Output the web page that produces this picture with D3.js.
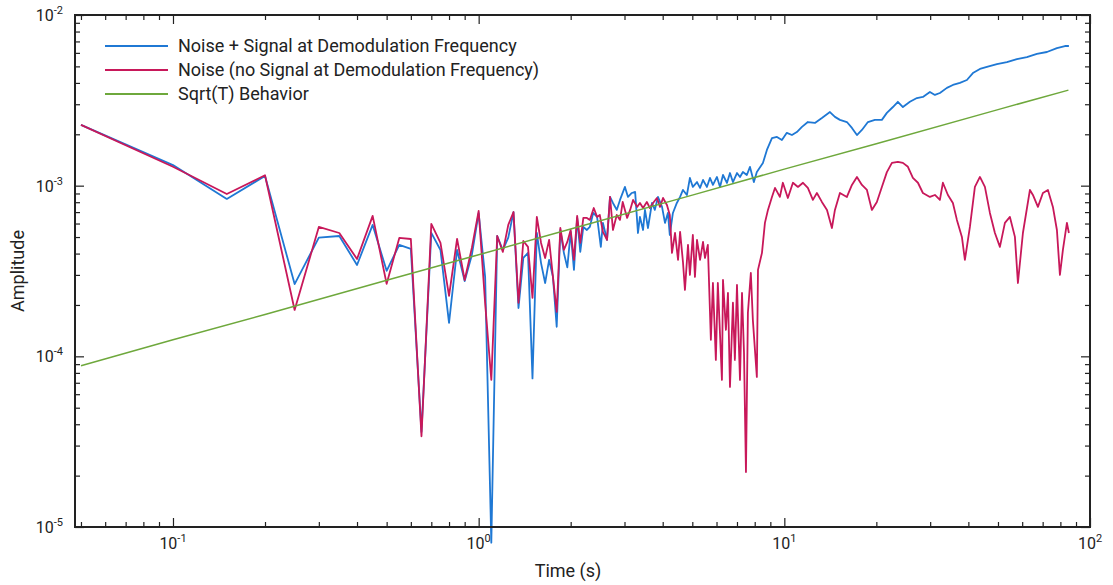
<!DOCTYPE html>
<html>
<head>
<meta charset="utf-8">
<script src="https://cdn.jsdelivr.net/npm/d3@7"></script>
<style>
  body { margin: 0; background: #fff; }
  svg { font-family: Roboto, 'Noto Sans', sans-serif; }
</style>
</head>
<body>
<div id="chart"></div>
<script>
// Amplitude vs averaging time, log-log.
// Values.

const seriesNames = [
  'Noise + Signal at Demodulation Frequency',
  'Noise (no Signal at Demodulation Frequency)',
  'Sqrt(T) Behavior'
]
const seriesColors = ['#1f78d4', '#c8185a', '#6ea83c']

// first 2.2 s, shared by both measured curves (0.05 s steps)
const earlyTime = [
  0.05, 0.1, 0.15, 0.2, 0.25, 0.3, 0.35, 0.4, 0.45, 0.5, 0.55, 0.6, 0.65, 0.7, 0.75,
  0.8, 0.85, 0.9, 0.95, 1.0, 1.05, 1.1, 1.15, 1.2, 1.25, 1.3, 1.35, 1.4, 1.45, 1.5,
  1.55, 1.6, 1.65, 1.7, 1.75, 1.8, 1.85, 1.9, 1.95, 2.0, 2.05, 2.1, 2.15, 2.2
]
const earlySignal = [
  2.27e-3, 1.32e-3, 8.36e-4, 1.14e-3, 2.65e-4, 4.96e-4, 5.07e-4, 3.43e-4, 5.89e-4, 3.17e-4,
  4.50e-4, 4.26e-4, 3.6e-5, 5.29e-4, 4.20e-4, 1.57e-4, 4.20e-4, 2.76e-4, 3.93e-4, 6.9e-4,
  2.92e-4, 8.1e-6, 5.07e-4, 4.20e-4, 4.96e-4, 7.0e-4, 1.92e-4, 3.77e-4, 4.04e-4, 7.43e-5,
  5.29e-4, 3.52e-4, 2.69e-4, 3.67e-4, 2.92e-4, 1.49e-4, 5.50e-4, 4.04e-4, 3.32e-4, 5.36e-4,
  3.21e-4, 6.47e-4, 4.09e-4, 5.73e-4
]
const earlyNoise = [
  2.27e-3, 1.29e-3, 8.94e-4, 1.15e-3, 1.87e-4, 5.73e-4, 5.28e-4, 3.72e-4, 6.65e-4, 2.66e-4,
  4.94e-4, 4.87e-4, 3.4e-5, 5.97e-4, 4.62e-4, 2.26e-4, 4.87e-4, 2.8e-4, 4.32e-4, 7.11e-4,
  2.05e-4, 7.27e-5, 5.07e-4, 4.09e-4, 5.89e-4, 7.01e-4, 2.06e-4, 4.74e-4, 4.38e-4, 2.20e-4,
  6.56e-4, 4.62e-4, 3.77e-4, 4.81e-4, 2.92e-4, 1.82e-4, 5.65e-4, 4.20e-4, 4.68e-4, 5.50e-4,
  3.67e-4, 6.65e-4, 4.62e-4, 6.47e-4
]

// after 2.2 s
const lateSignalTime = [
  2.26, 2.31, 2.37, 2.44, 2.51, 2.55, 2.63, 2.69, 2.75, 2.83, 2.90, 3.01, 3.08, 3.17, 3.25,
  3.32, 3.37, 3.45, 3.50, 3.58, 3.69, 3.77, 3.86, 3.98, 4.07, 4.16, 4.22, 4.32, 4.45, 4.56,
  4.66, 4.80, 4.91, 5.02, 5.18, 5.30, 5.42, 5.58, 5.71, 5.84, 6.02, 6.16, 6.30, 6.49, 6.64,
  6.79, 7.00, 7.16, 7.32, 7.54, 7.72, 7.95, 8.13, 8.51, 8.77, 9.11, 9.46, 9.82, 10.19, 10.59,
  10.99, 11.42, 11.94, 12.59, 13.27, 14.10, 14.64, 15.20, 16.02, 16.64, 17.28, 17.94, 18.77, 19.78, 20.85,
  21.65, 22.66, 23.52, 24.43, 25.75, 27.15, 28.40, 29.94, 31.09, 32.28, 34.03, 35.60, 37.53, 39.56, 41.39,
  43.64, 46.00, 49.60, 53.48, 57.66, 62.17, 67.04, 72.28, 77.94, 82.78, 85.3
]
const lateSignal = [
  5.50e-4, 5.73e-4, 6.92e-4, 6.56e-4, 4.38e-4, 6.05e-4, 4.81e-4, 8.59e-4, 7.92e-4, 7.21e-4, 8.25e-4, 9.83e-4, 8.59e-4, 9.06e-4, 9.19e-4,
  5.28e-4, 6.56e-4, 5.50e-4, 7.21e-4, 5.65e-4, 7.92e-4, 7.21e-4, 8.59e-4, 7.51e-4, 6.05e-4, 6.92e-4, 5.14e-4, 6.92e-4, 7.92e-4, 8.59e-4,
  9.44e-4, 8.82e-4, 1.11e-3, 9.83e-4, 1.05e-3, 9.70e-4, 1.08e-3, 9.83e-4, 1.11e-3, 1.01e-3, 1.125e-3, 9.83e-4, 1.155e-3, 1.037e-3, 1.186e-3,
  1.05e-3, 1.186e-3, 1.125e-3, 1.203e-3, 1.155e-3, 1.288e-3, 1.05e-3, 1.203e-3, 1.357e-3, 1.619e-3, 1.90e-3, 1.93e-3, 1.85e-3, 2.04e-3, 1.98e-3,
  2.06e-3, 2.21e-3, 2.36e-3, 2.33e-3, 2.49e-3, 2.70e-3, 2.53e-3, 2.43e-3, 2.36e-3, 2.18e-3, 1.98e-3, 2.12e-3, 2.36e-3, 2.43e-3, 2.43e-3,
  2.67e-3, 2.89e-3, 3.10e-3, 2.89e-3, 3.10e-3, 3.26e-3, 3.31e-3, 3.54e-3, 3.40e-3, 3.49e-3, 3.74e-3, 3.89e-3, 4.00e-3, 4.16e-3, 4.57e-3,
  4.83e-3, 4.96e-3, 5.16e-3, 5.30e-3, 5.52e-3, 5.67e-3, 5.91e-3, 6.07e-3, 6.40e-3, 6.58e-3, 6.58e-3
]

const lateNoiseTime = [
  2.26, 2.31, 2.38, 2.44, 2.49, 2.55, 2.63, 2.69, 2.75, 2.83, 2.90, 2.96, 3.06, 3.13, 3.20,
  3.30, 3.37, 3.45, 3.55, 3.63, 3.72, 3.83, 3.92, 4.01, 4.13, 4.22, 4.29, 4.39, 4.49, 4.56,
  4.66, 4.73, 4.84, 4.91, 5.02, 5.10, 5.18, 5.30, 5.42, 5.50, 5.62, 5.75, 5.84, 5.97, 6.06,
  6.25, 6.30, 6.44, 6.54, 6.64, 6.79, 6.89, 7.00, 7.16, 7.27, 7.38, 7.49, 7.60, 7.77, 7.89,
  8.13, 8.20, 8.45, 8.64, 8.84, 9.11, 9.32, 9.67, 9.89, 10.27, 10.67, 11.08, 11.51, 11.94, 12.40,
  12.78, 13.27, 13.79, 14.31, 14.64, 15.20, 16.02, 16.64, 17.28, 17.94, 18.63, 19.34, 20.08, 20.85, 21.65,
  22.49, 23.52, 24.43, 25.37, 26.34, 27.36, 28.40, 29.94, 31.09, 32.28, 33.02, 34.29, 35.60, 36.69, 38.10,
  38.97, 40.47, 42.02, 43.64, 45.31, 47.05, 48.86, 50.73, 52.68, 54.70, 56.80, 58.10, 60.33, 63.60, 65.05,
  67.55, 70.14, 72.84, 75.62, 77.94, 79.72, 81.54, 84.04, 85.3
]
const lateNoise = [
  6.47e-4, 6.30e-4, 7.40e-4, 6.56e-4, 6.74e-4, 5.36e-4, 4.81e-4, 8.59e-4, 5.50e-4, 6.74e-4, 6.30e-4, 8.03e-4, 6.47e-4, 7.21e-4, 8.25e-4,
  7.51e-4, 7.92e-4, 7.40e-4, 8.03e-4, 7.40e-4, 7.92e-4, 8.47e-4, 7.51e-4, 8.47e-4, 7.71e-4, 6.74e-4, 4.04e-4, 5.28e-4, 3.67e-4, 5.36e-4,
  3.57e-4, 2.45e-4, 4.50e-4, 3.00e-4, 5.14e-4, 2.92e-4, 4.81e-4, 3.67e-4, 4.68e-4, 3.77e-4, 4.50e-4, 1.25e-4, 2.69e-4, 9.53e-5, 2.69e-4,
  7.28e-5, 2.80e-4, 1.43e-4, 2.35e-4, 6.62e-5, 2.06e-4, 9.53e-5, 2.62e-4, 7.28e-5, 2.35e-4, 1.05e-4, 2.1e-5, 1.80e-4, 3.08e-4, 1.63e-4,
  7.57e-5, 3.21e-4, 4.04e-4, 6.05e-4, 7.21e-4, 8.59e-4, 9.70e-4, 8.59e-4, 1.04e-3, 8.47e-4, 1.04e-3, 9.83e-4, 1.04e-3, 9.70e-4, 8.25e-4,
  9.06e-4, 8.03e-4, 7.21e-4, 5.65e-4, 7.21e-4, 9.06e-4, 8.59e-4, 1.01e-3, 1.125e-3, 1.01e-3, 9.44e-4, 7.21e-4, 8.03e-4, 9.83e-4, 1.20e-3,
  1.36e-3, 1.38e-3, 1.36e-3, 1.29e-3, 1.11e-3, 1.04e-3, 9.06e-4, 8.59e-4, 8.82e-4, 8.25e-4, 1.04e-3, 8.82e-4, 7.92e-4, 6.30e-4, 5.01e-4,
  3.67e-4, 5.73e-4, 9.83e-4, 1.125e-3, 9.83e-4, 6.92e-4, 5.28e-4, 4.38e-4, 6.05e-4, 6.56e-4, 5.01e-4, 2.69e-4, 5.28e-4, 9.44e-4, 8.82e-4,
  7.51e-4, 9.06e-4, 9.44e-4, 7.51e-4, 5.50e-4, 3.00e-4, 4.20e-4, 6.05e-4, 5.28e-4
]

const sqrtTime = [0.05, 0.1, 0.2, 0.5, 1, 2, 5, 10, 20, 50, 85]
const sqrtAmp = [8.8e-5, 1.25e-4, 1.76e-4, 2.79e-4, 3.94e-4, 5.57e-4, 8.8e-4, 1.25e-3, 1.76e-3, 2.79e-3, 3.63e-3]

const xMajor = [0.1, 1, 10, 100]
const yMajor = [1e-5, 1e-4, 1e-3, 1e-2]

const width = 1113
const height = 585
const margin = {
  top: 15,
  right: 23,
  bottom: 58,
  left: 75
}
const innerW = width - margin.left - margin.right
const innerH = height - margin.top - margin.bottom

const svg = d3.select('#chart')
.append('svg')
.attr('width', width)
.attr('height', height)

const x = d3.scaleLog()
.domain([0.0478, 100])
.range([0, innerW])
const y = d3.scaleLog()
.domain([1e-5, 1e-2])
.range([innerH, 0])

const g = svg.append('g')
.attr('transform', `translate(${margin.left}, ${margin.top})`)

const isMajor = d => Math.abs(Math.log10(d) - Math.round(Math.log10(d))) < 1e-6

// ticks on all four sides, pointing in
const addTicks = (axis, translate, values, size) => {
  g.append('g')
    .attr('transform', translate)
    .attr('color', '#222')
    .call(axis.tickValues(values).tickSize(-size).tickSizeOuter(0).tickFormat(''))
    .call(s => s.select('.domain').remove())
    .selectAll('line')
    .attr('stroke-width', 1.2)
}
const xMinor = x.ticks().filter(d => !isMajor(d))
const yMinor = y.ticks().filter(d => !isMajor(d))
addTicks(d3.axisBottom(x), `translate(0, ${innerH})`, xMinor, 5)
addTicks(d3.axisBottom(x), `translate(0, ${innerH})`, xMajor, 9)
addTicks(d3.axisTop(x), 'translate(0, 0)', xMinor, 5)
addTicks(d3.axisTop(x), 'translate(0, 0)', xMajor, 9)
addTicks(d3.axisLeft(y), 'translate(0, 0)', yMinor, 5)
addTicks(d3.axisLeft(y), 'translate(0, 0)', yMajor, 9)
addTicks(d3.axisRight(y), `translate(${innerW}, 0)`, yMinor, 5)
addTicks(d3.axisRight(y), `translate(${innerW}, 0)`, yMajor, 9)

const powerLabel = (sel, d) => {
  sel.append('tspan').text('10')
  sel.append('tspan')
    .attr('dy', -7)
    .attr('font-size', 11)
    .text(Math.round(Math.log10(d)))
}

g.selectAll('.xlabel')
  .data(xMajor)
  .enter()
  .append('text')
  .attr('class', 'xlabel')
  .attr('x', d => x(d))
  .attr('y', innerH + 22)
  .attr('text-anchor', 'middle')
  .attr('font-size', 16)
  .attr('fill', '#222')
  .each(function (d) { powerLabel(d3.select(this), d) })

g.selectAll('.ylabel')
  .data(yMajor)
  .enter()
  .append('text')
  .attr('class', 'ylabel')
  .attr('x', -12)
  .attr('y', d => y(d) + 6)
  .attr('text-anchor', 'end')
  .attr('font-size', 16)
  .attr('fill', '#222')
  .each(function (d) { powerLabel(d3.select(this), d) })

svg.append('text')
  .attr('x', 568)
  .attr('y', 577)
  .attr('text-anchor', 'middle')
  .attr('font-size', 18)
  .attr('fill', '#222')
  .text('Time (s)')

svg.append('text')
  .attr('transform', 'translate(24, 271) rotate(-90)')
  .attr('text-anchor', 'middle')
  .attr('font-size', 18)
  .attr('fill', '#222')
  .text('Amplitude')

const line = d3.line()
.x(d => x(d[0]))
.y(d => y(d[1]))

const series = [
  d3.zip(earlyTime.concat(lateSignalTime), earlySignal.concat(lateSignal)),
  d3.zip(earlyTime.concat(lateNoiseTime), earlyNoise.concat(lateNoise)),
  d3.zip(sqrtTime, sqrtAmp)
]
const widths = [1.8, 1.8, 1.5]

series.forEach((data, i) => {
  g.append('path')
    .datum(data)
    .attr('fill', 'none')
    .attr('stroke', seriesColors[i])
    .attr('stroke-linejoin', 'round')
    .attr('stroke-width', widths[i])
    .attr('d', line)
})

// frame on top
g.append('rect')
  .attr('width', innerW)
  .attr('height', innerH)
  .attr('fill', 'none')
  .attr('stroke', '#222')
  .attr('stroke-width', 2)

const legend = svg.append('g')
.attr('transform', 'translate(105, 46)')

seriesNames.forEach((name, i) => {
  legend.append('line')
    .attr('x1', 0)
    .attr('x2', 63)
    .attr('y1', i * 24)
    .attr('y2', i * 24)
    .attr('stroke', seriesColors[i])
    .attr('stroke-width', 1.8)
  legend.append('text')
    .attr('x', 73)
    .attr('y', i * 24)
    .attr('dy', '0.35em')
    .attr('font-size', 18)
    .attr('fill', '#222')
    .text(name)
})
</script>
</body>
</html>
